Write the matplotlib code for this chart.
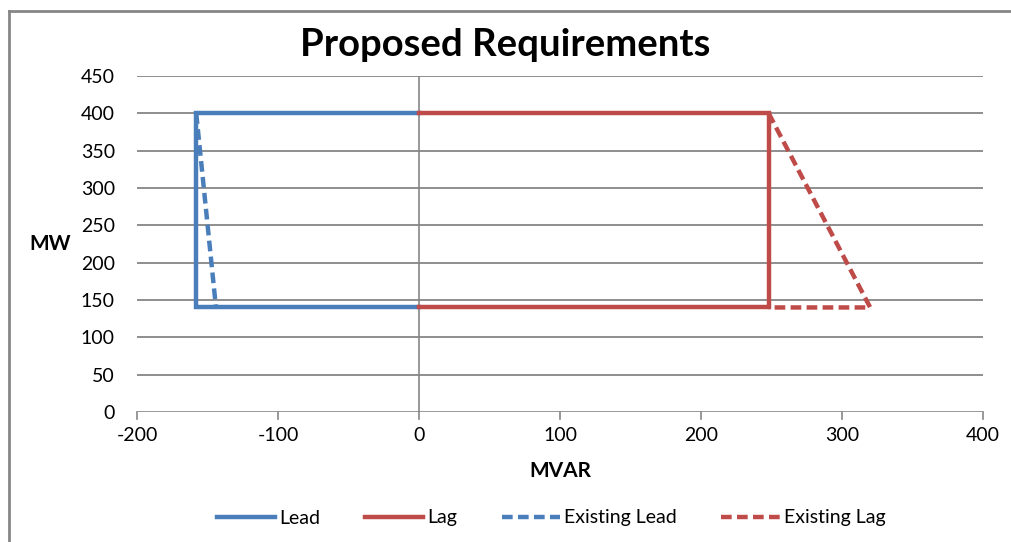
import matplotlib
matplotlib.use("Agg")
import matplotlib.pyplot as plt
from matplotlib.lines import Line2D

plt.rcParams['font.family'] = ['Lato', 'DejaVu Sans']

# Capability curve data (MVAR, MW)
lead_mvar = [0, -158, -158, 0]
lead_mw = [400, 400, 140, 140]
lag_mvar = [0, 248, 248, 0]
lag_mw = [400, 400, 140, 140]
exist_lead_mvar = [-158, -144]
exist_lead_mw = [400, 140]
exist_lag_mvar = [248, 320, 248]
exist_lag_mw = [400, 140, 140]

x_ticks = [-200, -100, 0, 100, 200, 300, 400]
y_ticks = [0, 50, 100, 150, 200, 250, 300, 350, 400, 450]

BLUE = '#4A7EBB'
RED = '#BE4B48'
GRID = '#868686'

W, H = 1011, 542
fig = plt.figure(figsize=(W / 100, H / 100), dpi=100)
ax = fig.add_axes([137 / W, 1 - 412 / H, (983 - 137) / W, (412 - 76) / H])

ax.set_xlim(-200, 400)
ax.set_ylim(0, 450)

for y in y_ticks[1:]:
    ax.axhline(y, color=GRID, lw=1.3, zorder=1)
ax.axvline(0, color=GRID, lw=1.2, zorder=1)
ax.axhline(0, color=GRID, lw=1.2, zorder=1)

lw = 3.2
dash = (0, (2.4, 1.2))
ax.plot(exist_lead_mvar, exist_lead_mw, color=BLUE, lw=lw, ls=dash, zorder=3)
ax.plot(exist_lag_mvar, exist_lag_mw, color=RED, lw=lw, ls=dash, zorder=3)
ax.plot(lead_mvar, lead_mw, color=BLUE, lw=lw, zorder=4, solid_joinstyle='miter')
ax.plot(lag_mvar, lag_mw, color=RED, lw=lw, zorder=4, solid_joinstyle='miter')

for s in ax.spines.values():
    s.set_visible(False)

ax.set_xticks(x_ticks)
ax.set_xticklabels([str(v) for v in x_ticks])
ax.set_yticks(y_ticks)
ax.set_yticklabels([str(v) for v in y_ticks])
ax.tick_params(axis='x', length=0, pad=11, labelsize=14)
ax.tick_params(axis='y', length=0, pad=16, labelsize=14)
for xv in x_ticks:
    ax.plot([xv, xv], [0, -9], color=GRID, lw=1.2, clip_on=False, zorder=1)

ax.set_xlabel('MVAR', fontsize=15, fontweight='bold', labelpad=12)
ax.set_ylabel('MW', fontsize=15, fontweight='bold', rotation=0, va='center')
ax.yaxis.set_label_coords(-0.103, 0.5)

fig.text(0.5, 1 - 45 / H, 'Proposed Requirements', ha='center', va='center',
         fontsize=27.5, fontweight='bold')

handles = [
    Line2D([], [], color=BLUE, lw=lw),
    Line2D([], [], color=RED, lw=lw),
    Line2D([], [], color=BLUE, lw=lw, ls=dash),
    Line2D([], [], color=RED, lw=lw, ls=dash),
]
fig.legend(handles, ['Lead', 'Lag', 'Existing Lead', 'Existing Lag'],
           loc='center', bbox_to_anchor=(551 / W, 1 - 518 / H), ncol=4,
           frameon=False, fontsize=14, handlelength=3.0, handletextpad=0.2,
           columnspacing=2.3)

# Chart frame (top and left edges)
fig.add_artist(Line2D([8.5 / W, 1], [1 - 10.5 / H, 1 - 10.5 / H], color='#868686', lw=2))
fig.add_artist(Line2D([8.5 / W, 8.5 / W], [0, 1 - 10.5 / H], color='#868686', lw=2))

fig.savefig('out.png', dpi=100)
